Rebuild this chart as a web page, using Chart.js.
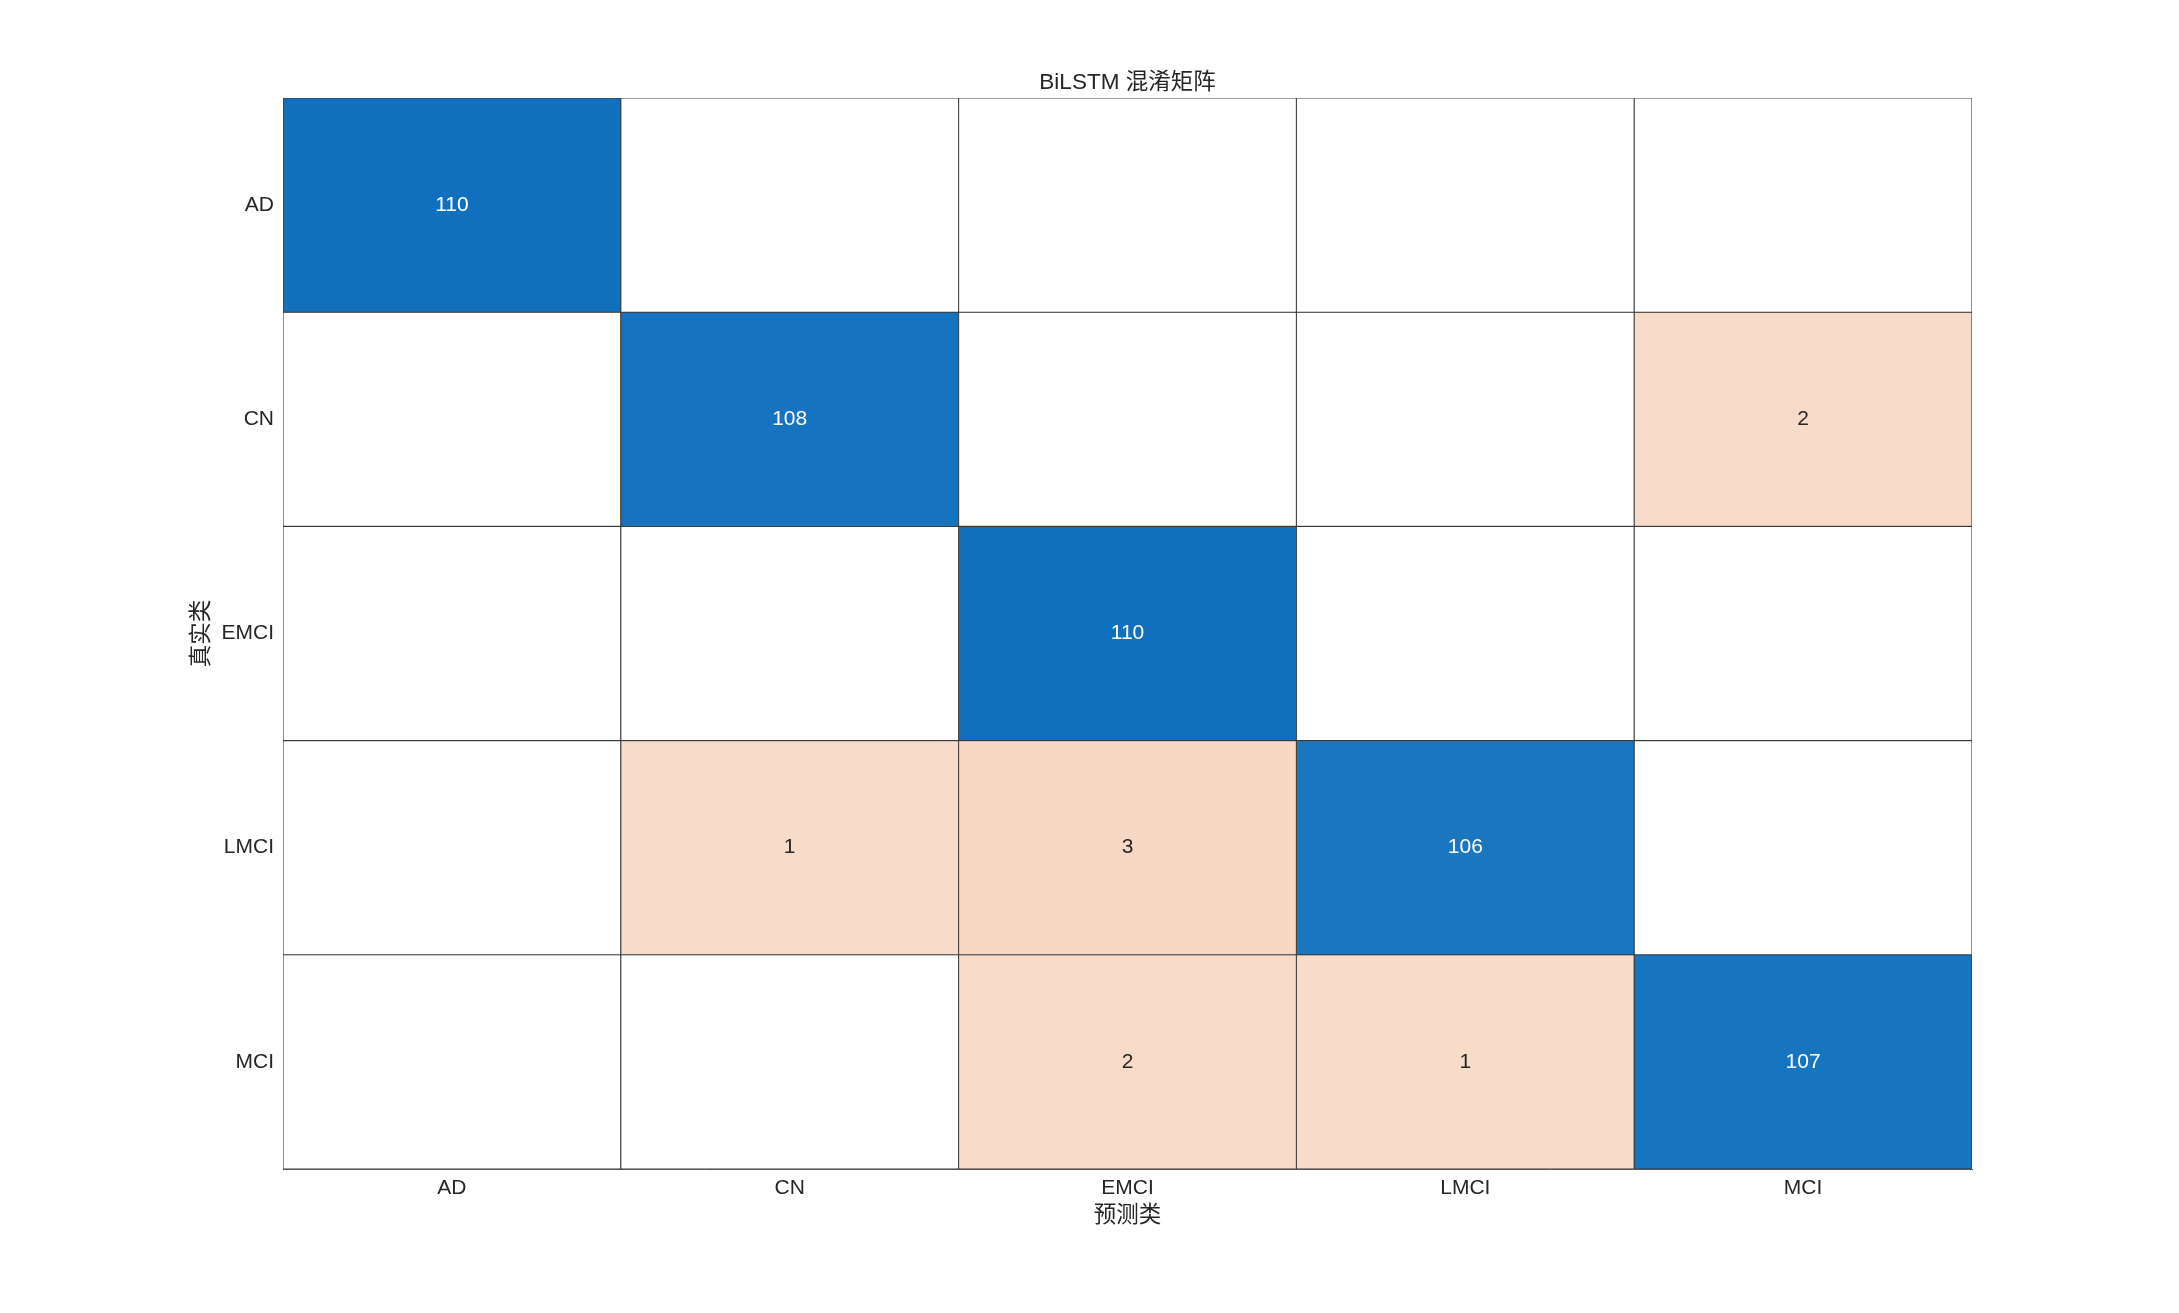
<!DOCTYPE html>
<html>
<head>
<meta charset="utf-8">
<script src="https://cdn.jsdelivr.net/npm/chart.js@4/dist/chart.umd.min.js"></script>
<style>
  html, body { margin: 0; padding: 0; background: #fff; }
  #chart { display: block; }
</style>
</head>
<body>
<canvas id="chart" width="2179" height="1313"></canvas>
<script>
// Class labels
const predictedLabels = ['AD', 'CN', 'EMCI', 'LMCI', 'MCI'];
const trueLabels = ['AD', 'CN', 'EMCI', 'LMCI', 'MCI'];

// One row of counts per true class
const rowAD = [110, 0, 0, 0, 0];
const rowCN = [0, 108, 0, 0, 2];
const rowEMCI = [0, 0, 110, 0, 0];
const rowLMCI = [0, 1, 3, 106, 0];
const rowMCI = [0, 0, 2, 1, 107];
const rows = [rowAD, rowCN, rowEMCI, rowLMCI, rowMCI];

const chartTitle = 'BiLSTM 混淆矩阵';
const xTitle = '预测类';
const yTitle = '真实类';

const latinFont = '"Liberation Sans", Arial, "Noto Sans CJK SC", sans-serif';
const textColor = '#262626';

// Cell colour from its count
function cellColor(v, isDiag) {
  if (v === 0) return '#ffffff';
  if (isDiag) {
    const d = 110 - v;
    return `rgb(${17 + d * 2}, ${112 + d * 1.5}, ${190 + d * 0.25})`;
  }
  const d = 3 - v;
  return `rgb(247, ${216 + d * 2}, ${197 + d * 2.5})`;
}

// Each true class becomes a dataset of floating bars [row, row + 1]
const datasets = rows.map((row, r) => ({
  label: trueLabels[r],
  data: row.map(() => [r, r + 1]),
  backgroundColor: row.map((v, c) => cellColor(v, r === c)),
  borderColor: '#3a3a3a',
  borderWidth: 0.9,
  borderSkipped: false,
  barPercentage: 1,
  categoryPercentage: 1,
  grouped: false,
}));

// Cell numbers and titles
const textPlugin = {
  id: 'matrixText',
  afterDatasetsDraw(chart) {
    const { ctx, chartArea, scales } = chart;
    ctx.save();
    ctx.textAlign = 'center';
    ctx.textBaseline = 'middle';
    ctx.font = '21px ' + latinFont;
    rows.forEach((row, r) => {
      row.forEach((v, c) => {
        if (v === 0) return;
        const x = scales.x.getPixelForValue(c);
        const y = scales.y.getPixelForValue(r + 0.5);
        ctx.fillStyle = r === c ? '#ffffff' : textColor;
        ctx.fillText(String(v), x, y);
      });
    });

    const cx = (chartArea.left + chartArea.right) / 2;
    const cy = (chartArea.top + chartArea.bottom) / 2;
    ctx.fillStyle = textColor;
    ctx.font = '22.5px ' + latinFont;
    ctx.fillText(chartTitle, cx, chartArea.top - 15);
    ctx.fillText(xTitle, cx, chartArea.bottom + 47);
    ctx.translate(202, cy);
    ctx.rotate(-Math.PI / 2);
    ctx.fillText(yTitle, 0, 0);
    ctx.restore();
  },
};

const config = {
  type: 'bar',
  data: { labels: predictedLabels, datasets },
  options: {
    responsive: false,
    devicePixelRatio: 1,
    animation: false,
    layout: { padding: { left: 0, top: 98, right: 207, bottom: 84 } },
    plugins: {
      legend: { display: false },
      tooltip: { enabled: false },
      title: { display: false },
    },
    scales: {
      x: {
        type: 'category',
        grid: { display: false, drawTicks: false },
        border: { display: true, color: '#555555', width: 1 },
        ticks: { color: textColor, font: { size: 21, family: latinFont }, padding: 7, maxRotation: 0 },
        afterFit(scale) { scale.height = 60; },
      },
      y: {
        type: 'linear',
        min: 0,
        max: 5,
        reverse: true,
        grid: { display: false, drawTicks: false },
        border: { display: true, color: '#555555', width: 1 },
        afterBuildTicks(scale) {
          scale.ticks = trueLabels.map((_, i) => ({ value: i + 0.5 }));
        },
        ticks: {
          color: textColor,
          font: { size: 21, family: latinFont },
          padding: 9,
          callback: value => trueLabels[Math.floor(value)],
        },
        afterFit(scale) { scale.width = 283; },
      },
    },
  },
  plugins: [textPlugin],
};

new Chart(document.getElementById('chart').getContext('2d'), config);
</script>
</body>
</html>
